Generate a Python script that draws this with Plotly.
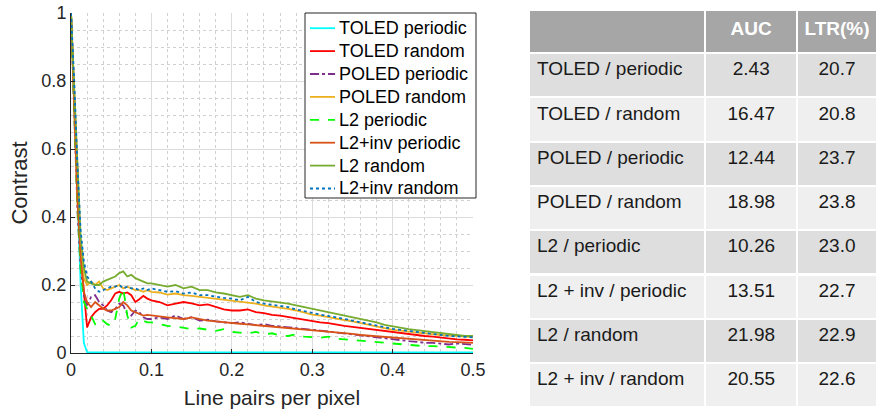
import plotly.graph_objects as go

W, H = 877, 409

# ---------------- data ----------------
x_lp = [0, 0.004, 0.008, 0.012, 0.016, 0.02, 0.025, 0.03, 0.035, 0.04, 0.045,
        0.05, 0.055, 0.06, 0.065, 0.07, 0.075, 0.08, 0.085, 0.09, 0.095, 0.1,
        0.11, 0.12, 0.13, 0.14, 0.15, 0.16, 0.17, 0.18, 0.19, 0.2,
        0.21, 0.22, 0.23, 0.24, 0.25, 0.26, 0.27, 0.28, 0.29, 0.3,
        0.31, 0.32, 0.33, 0.34, 0.35, 0.36, 0.37, 0.38, 0.39, 0.4,
        0.41, 0.42, 0.43, 0.44, 0.45, 0.46, 0.47, 0.48, 0.49, 0.5]

toled_periodic = [1, 0.72, 0.45, 0.2, 0.03, 0.002, 0.002, 0.002, 0.002, 0.002, 0.002,
                  0.002, 0.002, 0.002, 0.002, 0.002, 0.002, 0.002, 0.002, 0.002, 0.002, 0.002,
                  0.002, 0.002, 0.002, 0.002, 0.002, 0.002, 0.002, 0.002, 0.002, 0.002,
                  0.002, 0.002, 0.002, 0.002, 0.002, 0.002, 0.002, 0.002, 0.002, 0.002,
                  0.002, 0.002, 0.002, 0.002, 0.002, 0.002, 0.002, 0.002, 0.002, 0.002,
                  0.002, 0.002, 0.002, 0.002, 0.002, 0.002, 0.002, 0.002, 0.002, 0.002]

toled_random = [1, 0.75, 0.5, 0.3, 0.18, 0.075, 0.105, 0.12, 0.13, 0.13, 0.14,
                0.155, 0.175, 0.18, 0.175, 0.178, 0.17, 0.15, 0.158, 0.168, 0.16, 0.155,
                0.15, 0.14, 0.145, 0.15, 0.146, 0.14, 0.143, 0.135, 0.128, 0.125,
                0.125, 0.128, 0.12, 0.117, 0.112, 0.11, 0.106, 0.1, 0.097, 0.093,
                0.09, 0.088, 0.083, 0.08, 0.077, 0.074, 0.07, 0.067, 0.063, 0.06,
                0.057, 0.055, 0.052, 0.05, 0.048, 0.045, 0.043, 0.04, 0.039, 0.037]

poled_periodic = [1, 0.68, 0.42, 0.25, 0.17, 0.14, 0.165, 0.17, 0.15, 0.14, 0.125,
                  0.12, 0.13, 0.145, 0.14, 0.115, 0.11, 0.125, 0.12, 0.105, 0.1, 0.1,
                  0.105, 0.1, 0.11, 0.1, 0.105, 0.095, 0.098, 0.093, 0.09, 0.088,
                  0.09, 0.085, 0.082, 0.085, 0.08, 0.078, 0.075, 0.073, 0.07, 0.068,
                  0.066, 0.063, 0.06, 0.058, 0.055, 0.052, 0.05, 0.045, 0.042, 0.04,
                  0.038, 0.035, 0.033, 0.03, 0.03, 0.028, 0.025, 0.028, 0.025, 0.024]

poled_random = [1, 0.7, 0.45, 0.3, 0.22, 0.2, 0.21, 0.2, 0.21, 0.19, 0.185,
                0.19, 0.195, 0.2, 0.19, 0.195, 0.19, 0.185, 0.185, 0.18, 0.185, 0.18,
                0.178, 0.172, 0.175, 0.17, 0.168, 0.165, 0.162, 0.16, 0.158, 0.155,
                0.152, 0.148, 0.145, 0.14, 0.137, 0.133, 0.13, 0.125, 0.118, 0.113,
                0.11, 0.105, 0.1, 0.097, 0.093, 0.088, 0.083, 0.078, 0.073, 0.068,
                0.066, 0.062, 0.06, 0.058, 0.055, 0.053, 0.052, 0.05, 0.048, 0.047]

l2_periodic = [1, 0.7, 0.43, 0.25, 0.15, 0.13, 0.11, 0.085, 0.1, 0.095, 0.085,
               0.08, 0.1, 0.16, 0.19, 0.11, 0.075, 0.08, 0.1, 0.095, 0.09, 0.09,
               0.085, 0.08, 0.078, 0.075, 0.07, 0.072, 0.068, 0.065, 0.07, 0.062,
               0.06, 0.058, 0.062, 0.055, 0.058, 0.052, 0.05, 0.055, 0.048, 0.046,
               0.045, 0.048, 0.042, 0.04, 0.038, 0.035, 0.033, 0.03, 0.028, 0.026,
               0.025, 0.022, 0.022, 0.02, 0.02, 0.018, 0.017, 0.016, 0.015, 0.012]

l2inv_periodic = [1, 0.7, 0.45, 0.28, 0.18, 0.15, 0.135, 0.15, 0.14, 0.13, 0.125,
                  0.125, 0.13, 0.135, 0.15, 0.14, 0.125, 0.12, 0.115, 0.11, 0.112, 0.11,
                  0.108, 0.105, 0.103, 0.1, 0.105, 0.1, 0.095, 0.093, 0.09, 0.088,
                  0.086, 0.084, 0.082, 0.08, 0.078, 0.076, 0.074, 0.072, 0.07, 0.067,
                  0.065, 0.063, 0.06, 0.058, 0.056, 0.053, 0.051, 0.049, 0.047, 0.045,
                  0.043, 0.041, 0.04, 0.038, 0.036, 0.035, 0.033, 0.032, 0.031, 0.03]

l2_random = [1, 0.78, 0.52, 0.34, 0.25, 0.21, 0.205, 0.2, 0.2, 0.21, 0.215,
             0.22, 0.225, 0.235, 0.24, 0.225, 0.23, 0.22, 0.215, 0.21, 0.205, 0.205,
             0.2, 0.195, 0.2, 0.19, 0.195, 0.185, 0.185, 0.178, 0.175, 0.17,
             0.165, 0.17, 0.16, 0.155, 0.152, 0.148, 0.145, 0.14, 0.135, 0.13,
             0.125, 0.12, 0.115, 0.11, 0.106, 0.1, 0.095, 0.09, 0.083, 0.078,
             0.075, 0.07, 0.067, 0.064, 0.06, 0.058, 0.055, 0.053, 0.05, 0.05]

l2inv_random = [1, 0.8, 0.55, 0.36, 0.27, 0.225, 0.21, 0.19, 0.18, 0.185, 0.19,
                0.195, 0.195, 0.2, 0.19, 0.195, 0.19, 0.19, 0.185, 0.19, 0.185, 0.19,
                0.185, 0.18, 0.182, 0.175, 0.178, 0.17, 0.17, 0.165, 0.162, 0.16,
                0.155, 0.165, 0.15, 0.145, 0.142, 0.138, 0.135, 0.128, 0.122, 0.118,
                0.113, 0.11, 0.105, 0.1, 0.095, 0.09, 0.087, 0.082, 0.077, 0.071,
                0.068, 0.065, 0.061, 0.058, 0.056, 0.053, 0.05, 0.049, 0.047, 0.046]

series_names = ["TOLED periodic", "TOLED random", "POLED periodic", "POLED random",
                "L2 periodic", "L2+inv periodic", "L2 random", "L2+inv random"]
series_values = [toled_periodic, toled_random, poled_periodic, poled_random,
                 l2_periodic, l2inv_periodic, l2_random, l2inv_random]
series_colors = ["#00FFFF", "#FF0000", "#7E2F8E", "#EDB120",
                 "#00FF00", "#D95319", "#77AC30", "#0072BD"]
series_dash = ["solid", "solid", "dashdot", "solid",
               "dash", "solid", "solid", "dot"]

table_methods = ["TOLED / periodic", "TOLED / random", "POLED / periodic", "POLED / random",
                 "L2 / periodic", "L2 + inv / periodic", "L2 / random", "L2 + inv / random"]
table_auc = ["2.43", "16.47", "12.44", "18.98", "10.26", "13.51", "21.98", "20.55"]
table_ltr = ["20.7", "20.8", "23.7", "23.8", "23.0", "22.7", "22.9", "22.6"]
table_header = ["", "AUC", "LTR(%)"]

x_ticks = [0, 0.1, 0.2, 0.3, 0.4, 0.5]
x_ticklabels = ["0", "0.1", "0.2", "0.3", "0.4", "0.5"]
y_ticks = [0, 0.2, 0.4, 0.6, 0.8, 1]
y_ticklabels = ["0", "0.2", "0.4", "0.6", "0.8", "1"]

# ---------------- figure ----------------
FONT = "Liberation Sans, Arial, Helvetica, sans-serif"
fig = go.Figure()

for name, vals, col, dash in zip(series_names, series_values, series_colors, series_dash):
    fig.add_trace(go.Scatter(x=x_lp, y=vals, mode="lines", name=name,
                             line=dict(color=col, width=1.8, dash=dash),
                             xaxis="x", yaxis="y", showlegend=False))

# Custom legend box (MATLAB-like): sample line + label per series
NB = "\u00a0"
leg_left, leg_right, leg_top, leg_bottom = 305, 476, 13, 198
fig.add_shape(type="rect", xref="paper", yref="paper",
              x0=leg_left / W, x1=leg_right / W,
              y0=1 - leg_bottom / H, y1=1 - leg_top / H,
              line=dict(color="#262626", width=1), fillcolor="white", layer="above")
row_step = 22.9
first_row = 28.2
for i, (name, col, dash) in enumerate(zip(series_names, series_colors, series_dash)):
    yc = 1 - (first_row + i * row_step) / H
    fig.add_shape(type="line", xref="paper", yref="paper",
                  x0=310 / W, x1=335 / W, y0=yc, y1=yc,
                  line=dict(color=col, width=1.8, dash=dash), layer="above")
    fig.add_annotation(xref="paper", yref="paper", x=337 / W, y=yc,
                       xanchor="left", yanchor="middle", showarrow=False,
                       text=name, font=dict(size=18, color="black", family=FONT))

row_fill = ["#DEDEDE" if i % 2 == 0 else "#EFEFEF" for i in range(len(table_methods))]
fig.add_trace(go.Table(
    domain=dict(x=[529 / W, 1.0], y=[0, 1 - 10 / H]),
    columnwidth=[181, 94, 82],
    header=dict(values=["<b>%s</b>" % h if h else "" for h in table_header],
                fill_color="#A6A6A6", line=dict(color="white", width=2),
                font=dict(color="white", size=19, family=FONT),
                align=["left", "center", "center"], height=43),
    cells=dict(values=[[m.replace(" ", NB) for m in table_methods], table_auc, table_ltr],
               fill_color=[row_fill, row_fill, row_fill],
               line=dict(color="white", width=2),
               font=dict(color="#1A1A1A", size=19, family=FONT),
               align=["left", "center", "center"], height=44.3),
))

axis_common = dict(showline=True, linecolor="#262626", linewidth=1,
                   ticks="inside", ticklen=4, tickcolor="#262626",
                   showgrid=True, gridcolor="#DCDCDC", gridwidth=1,
                   zeroline=False, mirror=False, automargin=False,
                   tickfont=dict(size=18, color="#262626", family=FONT))

fig.update_layout(
    width=W, height=H,
    margin=dict(l=0, r=0, t=0, b=0, autoexpand=False),
    paper_bgcolor="white", plot_bgcolor="white",
    font=dict(family=FONT, color="#262626"),
    xaxis=dict(domain=[71 / W, 473 / W], range=[0, 0.5],
               tickvals=x_ticks, ticktext=x_ticklabels,
               minor=dict(dtick=0.02, tick0=0, showgrid=True, griddash="dot",
                          gridcolor="#D0D0D0", gridwidth=1, ticks=""),
               title=dict(text="Line pairs per pixel", font=dict(size=21, color="#262626"),
                          standoff=17),
               anchor="y", **axis_common),
    yaxis=dict(domain=[(H - 353) / H, (H - 13) / H], range=[0, 1],
               tickvals=y_ticks, ticktext=y_ticklabels,
               minor=dict(dtick=0.05, tick0=0, showgrid=True, griddash="dot",
                          gridcolor="#D0D0D0", gridwidth=1, ticks=""),
               title=dict(text="Contrast", font=dict(size=22, color="#262626"),
                          standoff=7),
               anchor="x", **axis_common),
    showlegend=False,
)

fig.write_html("out.html")
